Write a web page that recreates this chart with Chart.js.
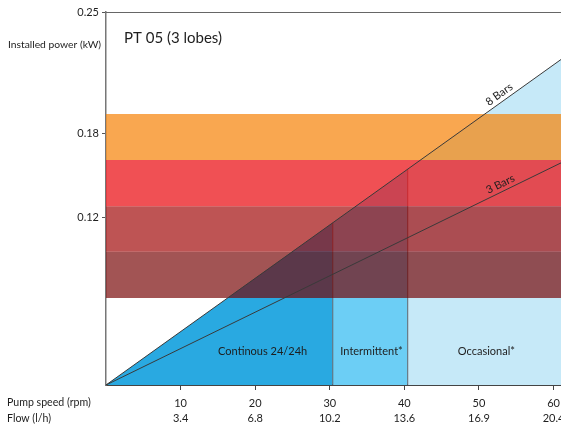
<!DOCTYPE html>
<html>
<head>
<meta charset="utf-8">
<script src="https://cdn.jsdelivr.net/npm/chart.js@4/dist/chart.umd.min.js"></script>
<style>
    body { margin: 0; background: #fff; }
    #wrap { width: 561px; height: 430px; }
</style>
</head>
<body>
<div id="wrap"><canvas id="pumpChart" width="561" height="430"></canvas></div>
<script>

/*
 * Data
 */

const rpmTicks = [10, 20, 30, 40, 50, 60];
const flowTicks = ["3.4", "6.8", "10.2", "13.6", "16.9", "20.4"];

const powerTicks = [0.12, 0.18];
const powerTop = 0.267;
const powerTopLabel = "0.25";

// duty zones under the 8 bar curve
const zoneNames = ["Continous 24/24h", "Intermittent*", "Occasional*"];
const zoneRpm = [0, 30.4, 40.45, 61];
const zoneTop = [0, 0.1161, 0.1545, 0.233];
const zoneLabelRpm = [21, 35.6, 51];
const zoneColors = ["#29A9E1", "#6CCEF5", "#C6E9F8"];

// horizontal motor bands (top edge, bottom edge)
const bandTop = [0.194, 0.161, 0.128, 0.0953];
const bandBottom = [0.161, 0.128, 0.0953, 0.0623];
const bandColors = [
    "rgba(246, 129, 5, 0.7)",
    "rgba(235, 21, 27, 0.75)",
    "rgba(158, 0, 0, 0.67)",
    "rgba(116, 0, 0, 0.67)"
];

// pressure curves
const curveRpm = [0, 61];
const eightBars = [0, 0.233];
const threeBars = [0, 0.159];

const FONT = "Lato, 'Open Sans', sans-serif";


document.addEventListener(

    "DOMContentLoaded",

    () => {

        const datasets = [];

        zoneNames.forEach((name, i) => {
            datasets.push({
                label: name,
                data: [
                    { x: zoneRpm[i], y: zoneTop[i] },
                    { x: zoneRpm[i + 1], y: zoneTop[i + 1] }
                ],
                fill: "origin",
                backgroundColor: zoneColors[i],
                borderWidth: 0,
                order: 4
            });
        });

        // zone dividers
        [1, 2].forEach(i => {
            datasets.push({
                label: "divider" + i,
                data: [
                    { x: zoneRpm[i], y: 0 },
                    { x: zoneRpm[i], y: zoneTop[i] }
                ],
                fill: false,
                borderColor: "#56636e",
                borderWidth: 1,
                order: 3
            });
        });

        bandTop.forEach((top, i) => {
            datasets.push({
                label: "band" + i,
                data: [
                    { x: 0, y: top },
                    { x: 61, y: top }
                ],
                fill: { value: bandBottom[i] },
                backgroundColor: bandColors[i],
                borderWidth: 0,
                order: 2
            });
        });

        [eightBars, threeBars].forEach((curve, i) => {
            datasets.push({
                label: i === 0 ? "8 Bars" : "3 Bars",
                data: curveRpm.map((r, k) => ({ x: r, y: curve[k] })),
                fill: false,
                borderColor: "#3a3a3a",
                borderWidth: 1,
                order: 1
            });
        });


        /*
         * Texts drawn on top
         */

        const annotate = {

            id: "annotate",

            afterDatasetsDraw(chart) {

                const { ctx, chartArea: area, scales: { x, y } } = chart;

                ctx.save();

                // top frame line
                ctx.strokeStyle = "#666";
                ctx.lineWidth = 1;
                ctx.beginPath();
                ctx.moveTo(area.left, area.top + 0.5);
                ctx.lineTo(area.right, area.top + 0.5);
                ctx.stroke();

                ctx.fillStyle = "#1e1e1e";
                ctx.textBaseline = "middle";

                ctx.font = "15px " + FONT;
                ctx.textAlign = "left";
                ctx.fillText("PT 05 (3 lobes)", area.left + 18, 38);

                ctx.font = "10.3px " + FONT;
                ctx.fillText("Installed power (kW)", 8, 45);
                ctx.font = "10.6px " + FONT;
                ctx.fillText("Pump speed (rpm)", 7, area.bottom + 18);
                ctx.fillText("Flow (l/h)", 7, area.bottom + 34);

                ctx.font = "11px " + FONT;
                ctx.textAlign = "center";
                zoneNames.forEach((name, i) => {
                    ctx.fillText(
                        name,
                        x.getPixelForValue(zoneLabelRpm[i]),
                        y.getPixelForValue(0.0237)
                    );
                });

                // curve labels along the lines
                [[eightBars, "8 Bars"], [threeBars, "3 Bars"]].forEach(([curve, text]) => {
                    const x0 = x.getPixelForValue(curveRpm[0]);
                    const y0 = y.getPixelForValue(curve[0]);
                    const x1 = x.getPixelForValue(curveRpm[1]);
                    const y1 = y.getPixelForValue(curve[1]);
                    const angle = Math.atan2(y1 - y0, x1 - x0);
                    const px = x.getPixelForValue(53.3);
                    const py = y0 + (y1 - y0) * (px - x0) / (x1 - x0);
                    ctx.save();
                    ctx.translate(px, py);
                    ctx.rotate(angle);
                    ctx.font = "11px " + FONT;
                    ctx.textBaseline = "bottom";
                    ctx.fillText(text, 0, -2);
                    ctx.restore();
                });

                ctx.restore();

            }

        };


        new Chart(

            document.getElementById("pumpChart"),

            {

                type: "line",

                data: { datasets },

                options: {

                    responsive: false,
                    animation: false,

                    layout: {
                        padding: { top: 12, right: 0, bottom: 0, left: 0 }
                    },

                    elements: {
                        point: { radius: 0 },
                        line: { tension: 0 }
                    },

                    plugins: {
                        legend: { display: false },
                        tooltip: { enabled: false }
                    },

                    scales: {

                        x: {
                            type: "linear",
                            min: 0,
                            max: 61,
                            afterBuildTicks: scale => {
                                scale.ticks = rpmTicks.map(v => ({ value: v }));
                            },
                            afterFit: scale => {
                                scale.paddingLeft = 0;
                                scale.paddingRight = 0;
                                scale.height = 45;
                            },
                            ticks: {
                                autoSkip: false,
                                maxRotation: 0,
                                padding: 5,
                                color: "#1e1e1e",
                                font: { family: FONT, size: 11, lineHeight: 1.45 },
                                callback: (v, i) => [String(v), flowTicks[i]]
                            },
                            grid: {
                                drawOnChartArea: false,
                                tickLength: 5,
                                color: "#444"
                            },
                            border: { color: "#444", width: 2 }
                        },

                        y: {
                            type: "linear",
                            min: 0,
                            max: powerTop,
                            afterBuildTicks: scale => {
                                scale.ticks = powerTicks
                                    .concat([powerTop])
                                    .map(v => ({ value: v }));
                            },
                            afterFit: scale => {
                                scale.width = 106;
                                scale.paddingTop = 0;
                            },
                            ticks: {
                                padding: 3,
                                color: "#1e1e1e",
                                font: { family: FONT, size: 11 },
                                callback: v =>
                                    v === powerTop ? powerTopLabel : v.toFixed(2)
                            },
                            grid: {
                                drawOnChartArea: false,
                                tickLength: 4,
                                color: "#555"
                            },
                            border: { color: "#777", width: 1.5 }
                        }

                    }

                },

                plugins: [annotate]

            }

        );

    }

);
</script>
</body>
</html>
